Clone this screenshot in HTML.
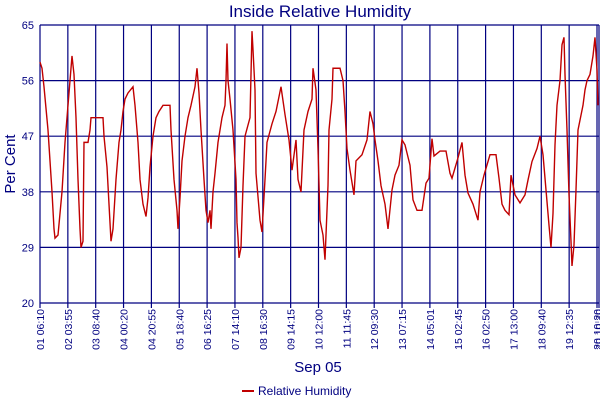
<!DOCTYPE html>
<html><head><meta charset="utf-8"><style>
body{margin:0;background:#fff;}
svg{display:block;font-family:"Liberation Sans",sans-serif;}
</style></head><body>
<svg id="chart" width="600" height="400">
<text x="320" y="17" text-anchor="middle" font-size="17" fill="#000080">Inside Relative Humidity</text>
<text transform="translate(15,164) rotate(-90)" text-anchor="middle" font-size="15" fill="#000080">Per Cent</text>
<text x="318" y="372" text-anchor="middle" font-size="15" fill="#000080">Sep 05</text>
<g id="grid"></g><g id="series"></g>
<g>
<line x1="242" y1="391" x2="254" y2="391" stroke="#c00000" stroke-width="2"/>
<text x="258" y="395" font-size="12" fill="#000080">Relative Humidity</text>
</g>
</svg>
<script>
const yTicks=[20,29,38,47,56,65];
const xLabels=["01 06:10","02 03:55","03 08:40","04 00:20","04 20:55","05 18:40","06 16:25","07 14:10","08 16:30","09 14:15","10 12:00","11 11:45","12 09:30","13 07:15","14 05:01","15 02:45","16 02:50","17 13:00","18 09:40","19 12:35","20 10:20","20 10:30"];
const xLabelSamples=[0,27.85,55.7,83.55,111.4,139.25,167.1,194.95,222.8,250.65,278.5,306.35,334.2,362.05,389.9,417.75,445.6,473.45,501.3,529.15,557,559];
const sampleIdx=[0,2,4,8,12,14,15,18,22,25,28,30,32,34,36,38,40,41,43,44,48,50,51,63,64,67,69,71,73,76,79,81,83,85,88,93,95,98,100,103,106,108,110,113,116,119,123,130,131,134,137,138,140,142,145,148,151,155,157,159,161,164,166,168,170,171,173,175,178,182,185,186,187,188,190,193,196,197,198,199,201,203,205,210,212,213,215,216,220,222,225,227,232,236,241,245,249,252,256,258,261,264,268,272,273,276,278,280,283,285,288,289,292,293,300,303,305,307,310,314,316,322,327,330,333,335,338,341,345,348,352,355,359,362,365,370,373,377,382,386,389,392,394,400,406,410,412,418,422,425,428,433,438,440,444,450,456,459,462,465,469,471,475,480,485,488,492,497,500,503,506,509,511,513,515,517,520,522,524,525,527,529,531,532,534,536,538,540,543,545,547,550,553,555,557,558];
const humidity=[59,58,55,48,38,32,30.5,31,38,46,52,56,60,57,50,40,32,29,30,46,46,48,50,50,47,42,36,30,32,40,46,48,51,53,54,55,52,46,40,36,34,37,42,47,50,51,52,52,48,40,35,32,37,43,47,50,52,55,58,54,48,40,35,33,35,32,38,41,46,50,52,56,62,56,53,48,40,33,30.6,27.3,29,39,47,50,64,61,54.5,41,33.4,31.5,40,46,49,51,55,50.5,46.4,41.5,46.4,40,38,48,51,53,58,54.5,45,33.4,31,27,39,48,53,58,58,56,51,45,41.5,37.5,43,44,46.4,51,49,46.4,43,39,36,32,38.3,40.7,42.3,46.4,45.6,42.3,36.7,35,35,39.4,40.2,46.6,43.8,44.6,44.6,41,40.2,43.5,46,40.7,37.8,36,33.4,38,40.7,44,44,40.2,36,35,34.3,40.7,37.5,36.2,37.5,39.9,42.9,45,47,44,38.3,32.6,29,34.5,45.6,52,56,61.8,63,57,48,37.5,30,26,29.4,38.3,48,49.6,52,54.5,56,57,60,63,57.7,52];
const L=40,R=597,T=25,B=303,NS="http://www.w3.org/2000/svg";
const xS=s=>L+s*(R-L)/557, yS=v=>B-(v-20)*(B-T)/45;
const grid=document.getElementById('grid'),ser=document.getElementById('series');
function mk(tag,at,parent){const e=document.createElementNS(NS,tag);for(const k in at)e.setAttribute(k,at[k]);parent.appendChild(e);return e;}
yTicks.forEach(v=>{
 const l=mk('line',{x1:L,x2:599,y1:yS(v),y2:yS(v),stroke:'#000080','stroke-width':1.2},grid);
 
 
 const t=mk('text',{x:34,y:yS(v)+4,'text-anchor':'end','font-size':11,fill:'#000080'},grid);
 t.textContent=v;
 
 
});
xLabels.forEach((lab,i)=>{
 const x=xS(xLabelSamples[i]);
 const l=mk('line',{x1:x,x2:x,y1:T,y2:B+5,stroke:'#000080','stroke-width':1.2},grid);
 
 
 const t=mk('text',{transform:`translate(${x+4},309) rotate(-90)`,'text-anchor':'end','font-size':10.5,fill:'#000080'},grid);
 t.textContent=lab;
 
 
});
let d='';
sampleIdx.forEach((s,i)=>{const x=xS(s),y=yS(humidity[i]);d+=(i===0?'M':'L')+x+','+y;});
const p=mk('path',{d:d,fill:'none',stroke:'#c00000','stroke-width':1.4,'stroke-linejoin':'miter'},ser);


</script>
</body></html>
